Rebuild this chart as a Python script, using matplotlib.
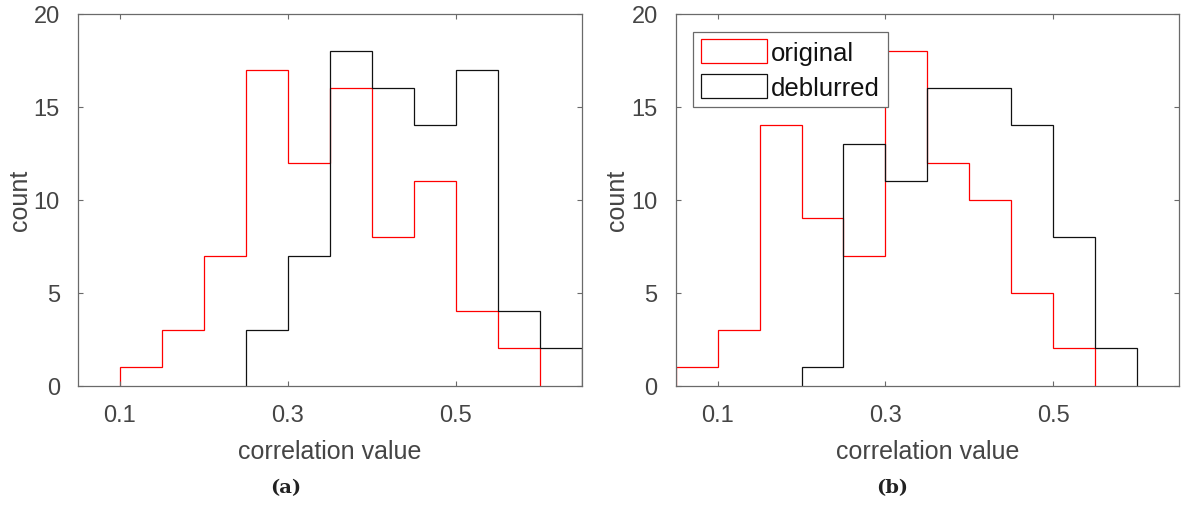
import numpy as np
import matplotlib
matplotlib.use("Agg")
import matplotlib.pyplot as plt
from matplotlib.patches import Patch

# bin edges and counts for each panel
edges_a_orig = [0.10, 0.15, 0.20, 0.25, 0.30, 0.35, 0.40, 0.45, 0.50, 0.55, 0.60]
counts_a_orig = [1, 3, 7, 17, 12, 16, 8, 11, 4, 2]
edges_a_debl = [0.25, 0.30, 0.35, 0.40, 0.45, 0.50, 0.55, 0.60, 0.65]
counts_a_debl = [3, 7, 18, 16, 14, 17, 4, 2]

edges_b_orig = [0.05, 0.10, 0.15, 0.20, 0.25, 0.30, 0.35, 0.40, 0.45, 0.50, 0.55]
counts_b_orig = [1, 3, 14, 9, 7, 18, 12, 10, 5, 2]
edges_b_debl = [0.20, 0.25, 0.30, 0.35, 0.40, 0.45, 0.50, 0.55, 0.60]
counts_b_debl = [1, 13, 11, 16, 16, 14, 8, 2]

xticks = [0.1, 0.3, 0.5]
yticks = [0, 5, 10, 15, 20]
series_names = ["original", "deblurred"]
panel_tags = ["(a)", "(b)"]

TXT = "#454545"
AXC = "#6a6a6a"
RED = "#ff0000"
BLK = "#111111"

plt.rcParams["font.family"] = ["Liberation Sans", "DejaVu Sans"]


def setup(ax):
    ax.set_xlim(0.05, 0.65)
    ax.set_ylim(0, 20)
    ax.set_xticks(xticks)
    ax.set_xticklabels([f"{v:.1f}" for v in xticks])
    ax.set_yticks(yticks)
    ax.tick_params(direction="in", length=3.6, width=0.8, colors=AXC,
                   labelcolor=TXT, labelsize=17, top=True, right=True)
    ax.tick_params(axis="x", pad=13.5)
    ax.tick_params(axis="y", pad=13)
    for s in ax.spines.values():
        s.set_color(AXC)
        s.set_linewidth(0.9)
    ax.set_xlabel("correlation value", fontsize=18, color=TXT, labelpad=9)
    ax.set_ylabel("count", fontsize=18, color=TXT, labelpad=1.5)


fig = plt.figure(figsize=(11.83, 5.06), dpi=100)
ax1 = fig.add_axes([0.0659, 0.2358, 0.426, 0.735])
ax2 = fig.add_axes([0.5712, 0.2358, 0.4254, 0.735])

ax1.stairs(counts_a_orig, edges_a_orig, color=RED, lw=0.9)
ax1.stairs(counts_a_debl, edges_a_debl, color=BLK, lw=0.9)
ax2.stairs(counts_b_orig, edges_b_orig, color=RED, lw=0.9)
ax2.stairs(counts_b_debl, edges_b_debl, color=BLK, lw=0.9)

for ax in (ax1, ax2):
    setup(ax)

handles = [Patch(facecolor="none", edgecolor=RED, lw=0.9),
           Patch(facecolor="none", edgecolor=BLK, lw=0.9)]
leg = ax2.legend(handles, series_names, loc="upper left",
                 bbox_to_anchor=(0.034, 0.952), borderaxespad=0,
                 fontsize=18.5, handlelength=2.6, handleheight=1.05,
                 handletextpad=0.15, labelspacing=0.35, borderpad=0.3,
                 fancybox=False, framealpha=1)
leg.get_frame().set_edgecolor(AXC)
leg.get_frame().set_linewidth(0.9)
for t in leg.get_texts():
    t.set_color("#111111")

# panel tags under each plot
fig.text(286 / 1183, 1 - 488 / 506, panel_tags[0], ha="center", va="center",
         fontsize=14, fontweight="bold", family="DejaVu Serif", color="#222222")
fig.text(892 / 1183, 1 - 488 / 506, panel_tags[1], ha="center", va="center",
         fontsize=14, fontweight="bold", family="DejaVu Serif", color="#222222")

fig.savefig("out.png", dpi=100)
